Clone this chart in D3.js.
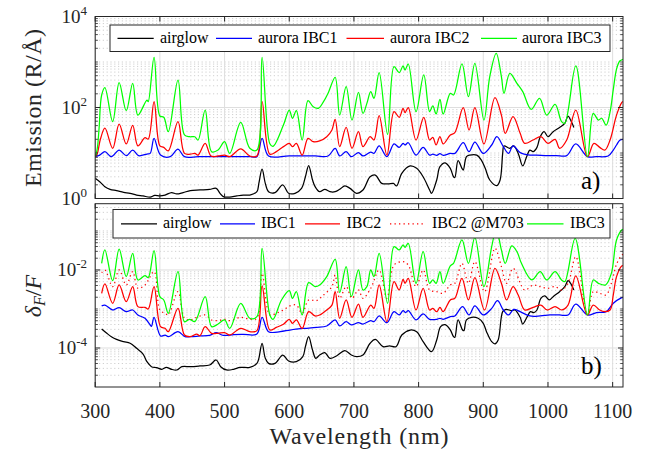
<!DOCTYPE html>
<html><head><meta charset="utf-8">
<script src="https://cdn.jsdelivr.net/npm/d3@7"></script>
</head><body style="margin:0">
<div style="position:relative;width:651px;height:453px">
<svg id="chart" width="651" height="453" style="position:absolute;left:0;top:0"></svg>
<svg id="labels" width="651" height="453" style="position:absolute;left:0;top:0"></svg>
</div>
<script>
// ---------- data: emission spectra, R per angstrom ----------
const wlAirglowEm = [300,307,315,323,333,344,354,364,374,385,392,400,408,418,426,436,447,462,477,487,493,498,508,519,529,539,550,553,558,563,568,578,590,599,609,619,625,630,636,640,647,655,663,671,678,686,694,704,714,725,733,743,753,761,766,774,787,797,807,817,820,828,833,841,849,854,856,861,867,869,874,879,890,897,903,910,921,926,930,932,941,947,954,961,967,972,977,983,988,994,1000,1008,1018,1026,1031,1035,1040];
const airglowEm = [2.77,2.34,1.82,1.59,1.49,1.37,1.30,1.19,1.14,1.07,1.17,1.14,1.19,1.35,1.26,1.35,1.49,1.54,1.59,1.67,1.30,1.10,1.07,1.14,1.19,1.19,1.41,2.15,4.4,2.15,1.41,1.35,1.98,1.30,1.30,1.67,3.0,5.3,2.55,1.82,1.41,1.59,1.41,1.41,1.59,1.89,1.67,1.30,1.54,3.0,3.28,2.15,2.1,2.15,1.89,3.57,5.2,4.6,3.0,1.54,1.30,2.55,5.0,6.1,4.6,3.0,2.9,6.8,4.6,4.2,8.3,9.0,9.0,7.0,4.6,2.55,1.92,2.55,9.8,14.3,12.7,14.3,9.8,5.2,8.3,11.6,10.7,13.3,22.8,29.4,22.8,29.4,36.5,45,65,53,36.5];

const wlIbc1Em = [300,307,315,325,337,348,358,367,380,385,391,401,416,428,438,460,500,540,550,558,568,600,640,660,671,678,688,696,707,714,726,731,739,751,762,770,776,779,784,796,807,817,822,828,833,838,849,856,869,878,887,900,913,921,931,939,946,957,972,982,998,1013,1029,1043,1061,1075,1093,1101,1106,1111,1116];
const ibc1Em = [8.3,9.0,10.7,8.3,11.6,8.75,11.6,8.75,9.5,9.8,21,9.0,8.3,12.1,8.3,8.3,8.3,8.3,8.3,21,8.6,8.6,8.6,8.6,12.7,8.6,10.7,8.3,10.2,8.6,10.5,9.8,14.3,8.3,15.8,13.3,16.3,15.0,16.8,9.0,13.3,9.0,9.4,8.9,9.7,8.9,9.8,9.8,16.8,10.7,17.4,9.8,15.0,22.8,13.8,9.8,14.3,10.2,9.0,9.0,8.75,8.75,8.75,15.8,8.3,8.3,8.6,11.6,15,19,20];

const wlIbc2Em = [300,303,308,315,327,337,348,358,366,377,382,391,400,406,413,428,438,447,454,459,470,479,490,500,508,525,539,550,558,570,580,591,600,605,611,620,629,637,647,658,666,671,678,688,697,707,714,725,731,739,751,762,770,776,779,784,796,808,817,822,827,833,838,849,856,869,878,887,901,918,928,934,946,957,964,977,989,1000,1011,1018,1029,1043,1061,1071,1080,1088,1096,1106,1114,1116];
const ibc2Em = [8.3,9.5,20,35,12.7,43,15.8,40.5,14.3,21.7,20.3,134,14.3,13.3,11.1,49,9.8,9.4,9.8,9.0,16.3,8.6,8.6,9.0,8.3,12.3,8.6,8.6,134,9.4,10.7,13.8,16.3,13.8,16.3,9.0,21,17.7,18.4,22.8,32,55,13.8,36.5,12.7,29.4,13.8,22.8,19.3,66,9.0,81,61,96,77,99,19.3,61,19.3,22.1,15.0,22.8,15.8,24.9,28,99,32,99,15.8,164,68,27,63,27,16.3,19.3,22.8,16.3,20,12.7,19.3,88,8.3,16.3,13.3,11.6,19.3,68,128,135];

const wlIbc3Em = [300,303,306,310,315,327,337,348,358,366,380,382,391,400,406,413,428,438,446,454,459,470,480,490,500,508,525,539,550,558,570,575,591,600,605,611,620,629,637,645,653,660,671,678,688,697,707,714,720,726,731,739,752,762,770,776,779,784,796,808,817,822,827,833,838,849,854,867,877,887,901,910,920,928,932,941,952,961,974,987,998,1011,1021,1026,1043,1061,1070,1078,1083,1090,1096,1101,1106,1111,1116];
const ibc3Em = [8.3,12,35,188,273,49,352,85,340,68,146,134,1265,65,61,29.4,402,24.9,22.8,22.8,19.3,88,10.7,11.6,17.7,9.8,47,12.7,11.6,1265,16,14,41,88,58,85,19.3,141,104,96,134,205,460,68,287,53,215,74,123,223,159,583,25.7,789,583,817,667,904,81,518,81,108,72,151,72,205,188,904,173,935,53,476,1550,476,205,564,340,223,91,159,68,117,49,45,817,8.3,74,53,58,41,80,250,700,1050,1150];

// ---------- data: relative flux error dF/F ----------
const wlAirglowRel = [310,318,325,333,344,354,364,374,380,387,395,403,410,418,426,434,447,462,477,487,494,503,514,524,539,550,553,558,563,568,578,590,599,611,621,625,630,636,641,647,655,663,673,686,696,704,714,725,733,745,755,765,774,787,797,807,820,828,834,841,849,854,856,861,868,870,874,882,892,900,905,913,918,923,930,935,944,949,957,961,968,973,978,983,989,995,1002,1008,1018,1026,1031,1035,1040];
const airglowRel = [3.07e-4,2.38e-4,1.95e-4,1.66e-4,1.45e-4,1.32e-4,9.8e-5,7.0e-5,4.46e-5,3.32e-5,3.13e-5,2.84e-5,3.19e-5,2.84e-5,2.73e-5,3.32e-5,3.32e-5,3.46e-5,3.66e-5,4.92e-5,3.32e-5,2.73e-5,2.84e-5,3.19e-5,3.19e-5,4.04e-5,5.43e-5,1.32e-4,5.43e-5,4.04e-5,4.04e-5,6.61e-5,4.64e-5,4.46e-5,6.0e-5,1.08e-4,1.95e-4,8.9e-5,5.43e-5,6.61e-5,7.6e-5,5.43e-5,6.24e-5,8.52e-5,6.61e-5,6.0e-5,6.61e-5,1.32e-4,1.66e-4,1.08e-4,1.13e-4,1.08e-4,2.15e-4,2.89e-4,2.62e-4,1.45e-4,8.05e-5,1.6e-4,3.52e-4,3.96e-4,2.9e-4,1.95e-4,1.87e-4,5.23e-4,2.89e-4,2.78e-4,5.23e-4,6.11e-4,5.77e-4,4.29e-4,2.62e-4,1.45e-4,1.27e-4,1.6e-4,8.55e-4,9.8e-4,9.05e-4,9.42e-4,6.11e-4,4.12e-4,6.36e-4,8.55e-4,8.06e-4,9.42e-4,1.88e-3,2.16e-3,1.7e-3,2.07e-3,2.78e-3,3.74e-3,5.32e-3,4.55e-3,3.07e-3];

const wlIbc1Rel = [310,315,327,337,348,358,366,377,385,387,391,401,408,413,428,439,447,462,477,487,498,514,529,550,558,568,586,601,617,627,642,658,671,678,688,696,707,714,726,731,739,751,762,770,776,780,784,796,807,817,828,833,838,849,856,868,878,887,900,913,922,931,939,947,957,972,988,1003,1018,1031,1043,1061,1075,1090,1101,1114,1116];
const ibc1Rel = [1.2e-3,1.26e-3,9.42e-4,1.08e-3,8.55e-4,9.42e-4,7.02e-4,5.77e-4,3.89e-4,3.6e-4,6.11e-4,2.03e-4,2.15e-4,1.95e-4,2.62e-4,1.95e-4,1.95e-4,2.03e-4,2.11e-4,2.47e-4,2.11e-4,2.2e-4,2.24e-4,2.28e-4,6.11e-4,2.62e-4,2.62e-4,2.89e-4,3.13e-4,3.19e-4,3.38e-4,3.67e-4,5.23e-4,3.67e-4,4.73e-4,3.89e-4,4.46e-4,4.12e-4,5.02e-4,4.73e-4,6.62e-4,4.46e-4,8.55e-4,7.02e-4,9.05e-4,8.06e-4,9.05e-4,5.23e-4,7.44e-4,5.44e-4,5.44e-4,5.77e-4,5.44e-4,6.36e-4,6.62e-4,1.15e-3,7.02e-4,1.2e-3,7.02e-4,1.04e-3,1.63e-3,9.42e-4,7.02e-4,9.8e-4,8.55e-4,6.62e-4,6.62e-4,7.02e-4,7.02e-4,7.02e-4,1.34e-3,7.02e-4,8.06e-4,8.55e-4,1.4e-3,1.95e-3,2.0e-3];

const wlIbc2Rel = [310,315,327,337,348,358,366,377,382,391,401,408,413,428,438,447,457,462,470,480,490,500,508,525,539,550,558,570,580,591,600,605,611,620,630,640,647,658,666,671,678,688,697,707,714,726,731,739,751,762,770,776,779,784,796,807,817,822,828,833,838,849,856,867,877,887,902,918,928,936,946,954,964,977,989,999,1011,1021,1031,1043,1061,1070,1080,1088,1096,1101,1106,1114,1116];
const ibc2Rel = [2.52e-3,4.37e-3,1.4e-3,4.12e-3,1.54e-3,3.74e-3,1.15e-3,1.1e-3,1.0e-3,3.74e-3,3.52e-4,3.19e-4,2.62e-4,1.04e-3,2.15e-4,1.95e-4,2.28e-4,2.07e-4,3.52e-4,2.38e-4,2.38e-4,2.47e-4,2.15e-4,3.19e-4,2.62e-4,2.78e-4,3.89e-3,2.89e-4,3.38e-4,4.04e-4,5.44e-4,4.29e-4,5.23e-4,3.19e-4,8.55e-4,6.62e-4,7.02e-4,9.42e-4,1.26e-3,2.78e-3,5.77e-4,1.7e-3,6.11e-4,1.34e-3,6.11e-4,1.26e-3,1.04e-3,4.12e-3,4.73e-4,5.02e-3,3.07e-3,5.76e-3,4.55e-3,6.11e-3,9.42e-4,3.39e-3,9.42e-4,1.04e-3,8.55e-4,1.1e-3,8.55e-4,1.7e-3,1.88e-3,6.11e-3,1.7e-3,6.36e-3,9.42e-4,1.1e-2,4.55e-3,1.7e-3,3.74e-3,2.29e-3,9.42e-4,1.1e-3,1.26e-3,9.42e-4,1.15e-3,9.42e-4,1.26e-3,7.02e-3,7.02e-4,1.26e-3,9.42e-4,8.55e-4,9.42e-4,2.29e-3,6.75e-3,1.27e-2,1.3e-2];

const wlM703Rel = [310,315,327,337,348,358,366,377,391,400,408,413,428,438,447,457,470,480,490,500,508,525,539,550,558,570,580,591,601,611,620,630,642,653,666,671,678,688,697,707,714,726,739,751,762,776,784,796,807,817,828,838,849,856,867,877,887,902,918,928,936,946,964,977,988,999,1011,1021,1031,1043,1061,1070,1080,1090,1098,1101,1106,1114,1116];
const m703Rel = [8.55e-3,1.0e-2,3.74e-3,1.0e-2,4.12e-3,9.06e-3,3.39e-3,4.12e-3,9.06e-3,9.42e-4,7.75e-4,7.02e-4,2.78e-3,5.77e-4,5.23e-4,6.11e-4,7.02e-4,5.23e-4,5.02e-4,5.44e-4,5.02e-4,6.11e-4,5.44e-4,5.77e-4,8.2e-3,7.02e-4,7.75e-4,9.42e-4,1.2e-3,1.26e-3,7.75e-4,1.7e-3,1.63e-3,2.29e-3,3.74e-3,7.45e-3,1.88e-3,3.74e-3,1.88e-3,3.07e-3,1.88e-3,3.39e-3,1.0e-2,1.88e-3,1.34e-2,1.64e-2,1.34e-2,3.74e-3,1.0e-2,3.07e-3,2.78e-3,2.52e-3,4.12e-3,4.55e-3,1.48e-2,4.55e-3,1.64e-2,2.78e-3,3.6e-2,1.22e-2,4.55e-3,1.1e-2,3.07e-3,4.12e-3,3.74e-3,3.39e-3,3.74e-3,3.07e-3,4.55e-3,2.2e-2,7.02e-4,2.78e-3,2.52e-3,2.29e-3,4.55e-3,6.9e-3,1.4e-2,2.4e-2,2.5e-2];

const wlIbc3Rel = [310,315,327,337,348,358,366,377,382,391,400,406,413,428,438,446,454,470,480,490,500,508,525,539,550,558,570,575,588,600,605,611,620,630,640,647,658,671,678,688,696,707,714,720,726,731,739,752,762,770,776,779,784,796,807,817,822,827,833,838,849,854,867,877,887,901,913,920,928,934,944,952,959,975,988,998,1011,1021,1026,1042,1061,1070,1078,1089,1098,1106,1114,1116];
const ibc3Rel = [1.48e-2,3.26e-2,5.32e-3,3.4e-2,6.75e-3,2.67e-2,5.54e-3,7.16e-3,6.36e-3,3.14e-2,2.07e-3,1.7e-3,7.75e-4,9.06e-3,4.73e-4,5.44e-4,4.73e-4,2.07e-3,3.52e-4,4.12e-4,5.23e-4,3.19e-4,1.4e-3,5.77e-4,6.36e-4,3.6e-2,7.02e-4,5.44e-4,1.7e-3,2.95e-3,1.88e-3,2.78e-3,7.02e-4,4.74e-3,3.74e-3,4.12e-3,6.75e-3,1.88e-2,2.63e-3,1.22e-2,2.07e-3,1.0e-2,3.07e-3,3.74e-3,1.0e-2,6.75e-3,2.67e-2,1.4e-3,3.97e-2,3.26e-2,4.38e-2,3.82e-2,4.83e-2,4.55e-3,2.95e-2,4.55e-3,5.54e-3,4.55e-3,9.06e-3,4.55e-3,1.27e-2,1.48e-2,5.88e-2,1.48e-2,6.88e-2,3.74e-3,3.97e-2,0.11,3.26e-2,1.48e-2,4.12e-2,2.95e-2,1.48e-2,5.54e-3,9.06e-3,5.54e-3,9.06e-3,5.54e-3,5.02e-3,6.49e-2,7.02e-4,5.54e-3,4.55e-3,4.12e-3,8.2e-3,5.88e-2,0.106,0.11];

// ---------- axes settings ----------
const xTicks = [300,400,500,600,700,800,900,1000,1100];
const emTicks = [1, 1e2, 1e4];
const emTickExp = ["0", "2", "4"];
const relTicks = [1e-4, 1e-2];
const relTickExp = ["-4", "-2"];

const FONT = "'Liberation Serif'";
const AX = '#262626';
const svg = d3.select('#chart');
const txt = d3.select('#labels');
svg.append('rect').attr('width', 651).attr('height', 453).attr('fill', '#fff');

const x = d3.scaleLinear().domain([300, 1116]).range([95.2, 623]);
const yEm = d3.scaleLog().domain([1, 1e4]).range([198.5, 16.5]);
const yRel = d3.scaleLog().domain([1e-5, 0.5]).range([387, 203.7]);

function label(xp, yp, size) {
  return txt.append('text').attr('x', xp).attr('y', yp)
    .attr('font-family', FONT).attr('font-size', size).attr('fill', AX);
}

function minorValues(domain, majors) {
  const out = [];
  const lo = domain[0], hi = domain[1];
  for (let e = Math.floor(Math.log10(lo)); e <= Math.ceil(Math.log10(hi)); e++) {
    for (let k = 1; k < 10; k++) {
      const v = k * Math.pow(10, e);
      if (v > lo * 1.0001 && v < hi * 0.9999 && !majors.some(m => Math.abs(m - v) / m < 1e-6)) out.push(v);
    }
  }
  return out;
}

function panel(y, majors, exps, series, id) {
  const [x0, x1] = x.range();
  const [yb, yt] = y.range();
  const g = svg.append('g');
  const minors = minorValues(y.domain(), majors);

  // grid
  g.selectAll('.mg').data(minors).join('line')
    .attr('x1', x0).attr('x2', x1).attr('y1', d => y(d)).attr('y2', d => y(d))
    .attr('stroke', '#c4c4c4').attr('stroke-width', 0.8).attr('stroke-dasharray', '1.2 2.6');
  g.selectAll('.gx').data(xTicks).join('line')
    .attr('x1', d => x(d)).attr('x2', d => x(d)).attr('y1', yt).attr('y2', yb)
    .attr('stroke', '#dedede').attr('stroke-width', 1);
  g.selectAll('.gy').data(majors).join('line')
    .attr('x1', x0).attr('x2', x1).attr('y1', d => y(d)).attr('y2', d => y(d))
    .attr('stroke', '#dedede').attr('stroke-width', 1);

  // data lines
  svg.append('clipPath').attr('id', id).append('rect')
    .attr('x', x0).attr('y', yt).attr('width', x1 - x0).attr('height', yb - yt);
  const line = d3.line().x(d => x(d[0])).y(d => y(d[1])).curve(d3.curveCatmullRom.alpha(0.5));
  const lg = g.append('g').attr('clip-path', `url(#${id})`);
  series.forEach(s => {
    lg.append('path').datum(d3.zip(s.wl, s.v))
      .attr('d', line).attr('fill', 'none').attr('stroke', s.color)
      .attr('stroke-width', 1.25).attr('stroke-linejoin', 'round')
      .attr('stroke-dasharray', s.dash || null);
  });

  // frame and ticks
  g.append('rect').attr('x', x0).attr('y', yt).attr('width', x1 - x0).attr('height', yb - yt)
    .attr('fill', 'none').attr('stroke', AX).attr('stroke-width', 1);
  xTicks.forEach(t => {
    g.append('line').attr('x1', x(t)).attr('x2', x(t)).attr('y1', yb).attr('y2', yb - 5).attr('stroke', AX);
    g.append('line').attr('x1', x(t)).attr('x2', x(t)).attr('y1', yt).attr('y2', yt + 5).attr('stroke', AX);
  });
  majors.forEach(t => {
    g.append('line').attr('x1', x0).attr('x2', x0 + 5).attr('y1', y(t)).attr('y2', y(t)).attr('stroke', AX);
    g.append('line').attr('x1', x1).attr('x2', x1 - 5).attr('y1', y(t)).attr('y2', y(t)).attr('stroke', AX);
  });
  minors.forEach(t => {
    g.append('line').attr('x1', x0).attr('x2', x0 + 2.7).attr('y1', y(t)).attr('y2', y(t)).attr('stroke', AX).attr('stroke-width', 0.8);
    g.append('line').attr('x1', x1).attr('x2', x1 - 2.7).attr('y1', y(t)).attr('y2', y(t)).attr('stroke', AX).attr('stroke-width', 0.8);
  });

  // y tick labels 10^n
  majors.forEach((t, i) => {
    const tx = label(87, y(t) + 6.5, 19).attr('text-anchor', 'end');
    tx.append('tspan').text('10');
    tx.append('tspan').attr('dy', -8).attr('font-size', 13).text(exps[i]);
  });
}

function legend(box, items) {
  svg.append('rect').attr('x', box.x).attr('y', box.y).attr('width', box.w).attr('height', box.h)
    .attr('fill', '#fff').attr('stroke', AX).attr('stroke-width', 1);
  const cy = box.y + box.h / 2;
  items.forEach(it => {
    svg.append('line').attr('x1', it.x1).attr('x2', it.x2).attr('y1', cy).attr('y2', cy)
      .attr('stroke', it.color).attr('stroke-width', 1.25).attr('stroke-dasharray', it.dash || null);
    label(it.tx, cy + 4.5, 16).attr('fill', '#000').text(it.label);
  });
}

// ---------- panel a: emission ----------
panel(yEm, emTicks, emTickExp, [
  { wl: wlAirglowEm, v: airglowEm, color: '#000000' },
  { wl: wlIbc1Em, v: ibc1Em, color: '#0000ff' },
  { wl: wlIbc2Em, v: ibc2Em, color: '#ff0000' },
  { wl: wlIbc3Em, v: ibc3Em, color: '#00ff00' }
], 'clipA');
legend({ x: 110, y: 25, w: 500, h: 26.5 }, [
  { x1: 117.5, x2: 153.7, tx: 160, color: '#000000', label: 'airglow' },
  { x1: 216, x2: 252, tx: 258, color: '#0000ff', label: 'aurora IBC1' },
  { x1: 346.5, x2: 384, tx: 390, color: '#ff0000', label: 'aurora IBC2' },
  { x1: 481, x2: 517, tx: 522, color: '#00ff00', label: 'aurora IBC3' }
]);

// ---------- panel b: relative error ----------
panel(yRel, relTicks, relTickExp, [
  { wl: wlAirglowRel, v: airglowRel, color: '#000000' },
  { wl: wlIbc1Rel, v: ibc1Rel, color: '#0000ff' },
  { wl: wlIbc2Rel, v: ibc2Rel, color: '#ff0000' },
  { wl: wlM703Rel, v: m703Rel, color: '#ff0000', dash: '1.3 3.2' },
  { wl: wlIbc3Rel, v: ibc3Rel, color: '#00ff00' }
], 'clipB');
legend({ x: 113, y: 209.5, w: 497, h: 28.5 }, [
  { x1: 121, x2: 157, tx: 163, color: '#000000', label: 'airglow' },
  { x1: 220, x2: 255, tx: 261, color: '#0000ff', label: 'IBC1' },
  { x1: 305, x2: 340, tx: 346.5, color: '#ff0000', label: 'IBC2' },
  { x1: 390, x2: 426, tx: 432, color: '#ff0000', label: 'IBC2 @M703', dash: '1.3 3.2' },
  { x1: 527, x2: 563.5, tx: 570, color: '#00ff00', label: 'IBC3' }
]);

// x tick labels (bottom panel only)
xTicks.forEach(t => {
  label(x(t), 417.5, 20).attr('text-anchor', 'middle').text(t);
});

// axis titles
label(359, 443.5, 24).attr('text-anchor', 'middle')
  .attr('textLength', 179).attr('lengthAdjust', 'spacing').text('Wavelength (nm)');
label(0, 0, 24).attr('transform', 'translate(41,108) rotate(-90)').attr('text-anchor', 'middle')
  .attr('textLength', 158).attr('lengthAdjust', 'spacing').text('Emission (R/Å)');
const yl = label(0, 0, 24).attr('transform', 'translate(41,296) rotate(-90)').attr('text-anchor', 'middle');
yl.append('tspan').attr('font-style', 'italic').text('δ');
yl.append('tspan').attr('font-style', 'italic').attr('font-size', 16).attr('dy', 4).text('F');
yl.append('tspan').attr('dy', -4).text('/');
yl.append('tspan').attr('font-style', 'italic').text('F');

// panel tags
label(581, 189, 25).attr('fill', '#000').text('a)');
label(581, 373.5, 25).attr('fill', '#000').text('b)');
</script>
</body></html>
